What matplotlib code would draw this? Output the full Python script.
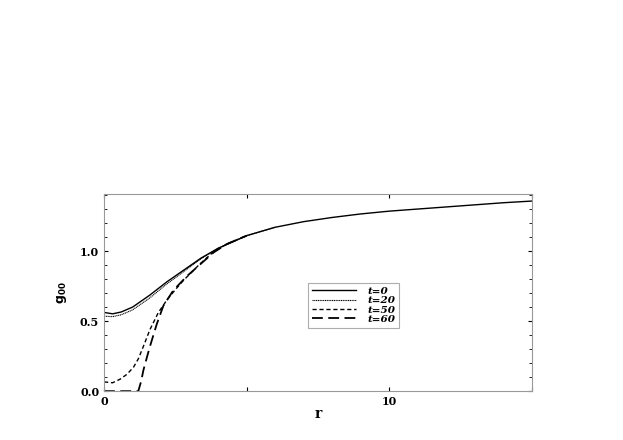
import matplotlib.pyplot as plt
from matplotlib.ticker import MultipleLocator

# courbes
r_0 = [0, 0.3, 0.6, 1.0, 1.6, 2.2, 2.8, 3.4, 4.0, 5, 6, 7, 8, 9, 10, 11, 12, 13, 14, 15]
g_0 = [0.562, 0.552, 0.565, 0.60, 0.685, 0.78, 0.865, 0.95, 1.02, 1.11, 1.17, 1.21, 1.24, 1.265,
       1.285, 1.30, 1.315, 1.33, 1.345, 1.357]

r_20 = [0, 0.3, 0.6, 1.0, 1.6, 2.2, 2.8, 3.4, 4.0, 5, 6]
g_20 = [0.535, 0.532, 0.545, 0.58, 0.665, 0.765, 0.855, 0.945, 1.02, 1.11, 1.17]

r_50 = [0, 0.3, 0.56, 0.8, 1.03, 1.2, 1.38, 1.61, 1.9, 2.2, 2.5, 2.78, 3.1, 3.37, 3.84, 4.3, 5]
g_50 = [0.066, 0.06, 0.085, 0.12, 0.17, 0.23, 0.32, 0.44, 0.56, 0.65, 0.725, 0.79, 0.855, 0.91, 0.995, 1.05, 1.11]

r_60 = [0, 1.2, 1.3, 1.38, 1.5, 1.61, 1.85, 2.08, 2.43, 2.9, 3.37, 3.84, 4.3, 5]
g_60 = [0, 0, 0.07, 0.15, 0.24, 0.32, 0.48, 0.61, 0.72, 0.82, 0.905, 0.99, 1.05, 1.11]

plt.rcParams['font.family'] = ['DejaVu Serif']
plt.rcParams['font.weight'] = 'bold'

fig = plt.figure(figsize=(6.23, 4.4), dpi=100)
ax = fig.add_axes([0.167, 0.111, 0.687, 0.448])

ax.plot(r_0, g_0, color='k', linestyle='-', linewidth=1.0, label='t=0')
ax.plot(r_20, g_20, color='k', linestyle=(0, (1, 0.6)), linewidth=0.8, label='t=20')
ax.plot(r_50, g_50, color='k', linestyle=(0, (3, 2)), linewidth=1.0, label='t=50')
ax.plot(r_60, g_60, color='k', linestyle=(0, (6, 3)), linewidth=1.3, label='t=60')

ax.set_xlim(0, 15)
ax.set_ylim(0, 1.407)
ax.set_xticks([0, 5, 10, 15])
ax.set_xticklabels(['0', '', '10', ''])
ax.yaxis.set_major_locator(MultipleLocator(0.5))
ax.yaxis.set_minor_locator(MultipleLocator(0.1))
ax.yaxis.set_major_formatter(plt.FormatStrFormatter('%.1f'))
ax.tick_params(direction='in', top=True, right=True, length=3, width=0.8, labelsize=8)
ax.tick_params(which='minor', direction='in', right=True, length=2, width=0.6)
for s in ax.spines.values():
    s.set_color('#999999')
    s.set_linewidth(0.8)

ax.set_xlabel('r', fontsize=10, fontweight='bold', labelpad=0)
ax.set_ylabel('$\\mathbf{g_{00}}$', fontsize=9, labelpad=8, rotation=90)

leg = ax.legend(loc='upper left', bbox_to_anchor=(0.477, 0.548),
                prop={'style': 'italic', 'weight': 'bold', 'size': 7.5},
                handlelength=4.2, handletextpad=1.1, labelspacing=0.0,
                borderpad=0.35, borderaxespad=0, fancybox=False, frameon=True)
leg.get_frame().set_edgecolor('#999999')
leg.get_frame().set_linewidth(0.8)

fig.savefig('out.png', dpi=100)
